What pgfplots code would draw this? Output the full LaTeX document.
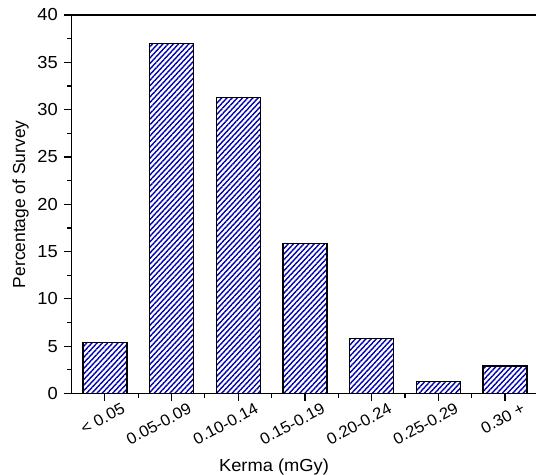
\documentclass[border=0pt]{standalone}
\usepackage{fontspec}
\setmainfont{Liberation Sans}[FakeStretch=1.05]
\newfontfamily\ylabfont{Liberation Sans}
\usepackage{pgfplots}
\pgfplotsset{compat=1.18}
\usetikzlibrary{patterns.meta}
\definecolor{hatch}{RGB}{0,0,175}
\begin{document}
\begin{tikzpicture}
\begin{axis}[
  scale only axis, width=464.5bp, height=378.5bp,
  xmin=-0.5, xmax=6.465, ymin=0, ymax=40,
  separate axis lines, axis x line=box, axis y line=left,
  axis line style={-, line width=1.3bp, black},
  xtick={0,...,6},
  xticklabels={{< 0.05},{0.05-0.09},{0.10-0.14},{0.15-0.19},{0.20-0.24},{0.25-0.29},{0.30 +}},
  minor xtick={0.5,1.5,...,5.5},
  ytick={0,5,...,40}, minor y tick num=1,
  xtick pos=bottom, ytick pos=left,
  tick align=outside, major tick length=7.5bp, minor tick length=4bp,
  every tick/.style={black, line width=1.2bp},
  /pgf/number format/assume math mode=true,
  yticklabel style={font=\fontsize{17.5}{20}\selectfont, anchor=east, inner sep=0pt, xshift=-6bp},
  xticklabel style={font=\fontsize{16}{19}\selectfont, xshift=16bp, yshift=-1bp, rotate=28, anchor=north east, inner sep=0pt},
  xlabel={Kerma (mGy)},
  xlabel style={font=\fontsize{17.5}{20}\selectfont, at={(axis description cs:0.436,-0.2050)}, anchor=base},
  ylabel={\ylabfont Percentage of Survey},
  ylabel style={font=\fontsize{17.5}{20}\selectfont, at={(axis description cs:-0.1001,0.5)}, anchor=base},
  ybar, bar width=44bp,
]
\addplot[ybar, draw=black, line width=1.4bp,
  pattern={Lines[angle=47,distance=3.8bp,line width=1.4bp]}, pattern color=hatch]
  coordinates {(0,5.41) (1,37.0) (2,31.3) (3,15.85) (4,5.79) (5,1.25) (6,2.9)};
\end{axis}
\pgfresetboundingbox
\path[use as bounding box] (-71.5bp,-81.5bp) rectangle (464.5bp,393.5bp);
\end{tikzpicture}
\end{document}
